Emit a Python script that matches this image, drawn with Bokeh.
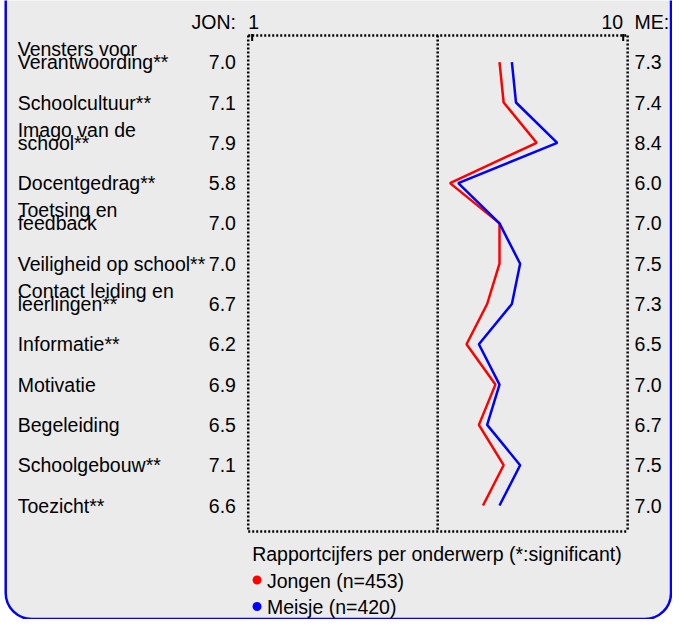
from bokeh.plotting import figure
from bokeh.models import Range1d, BoxAnnotation
from bokeh.core.properties import value
from bokeh.embed import file_html
from bokeh.resources import INLINE

# ---------------- data ----------------
categories = [
    "Vensters voor\nVerantwoording**",
    "Schoolcultuur**",
    "Imago van de\nschool**",
    "Docentgedrag**",
    "Toetsing en\nfeedback",
    "Veiligheid op school**",
    "Contact leiding en\nleerlingen**",
    "Informatie**",
    "Motivatie",
    "Begeleiding",
    "Schoolgebouw**",
    "Toezicht**",
]
jongen = [7.0, 7.1, 7.9, 5.8, 7.0, 7.0, 6.7, 6.2, 6.9, 6.5, 7.1, 6.6]
meisje = [7.3, 7.4, 8.4, 6.0, 7.0, 7.5, 7.3, 6.5, 7.0, 6.7, 7.5, 7.0]
scale_ticks = [1, 10]
scale_tick_labels = ["1", "10"]
mid_value = 5.5
head_left = "JON:"
head_right = "ME:"
legend_title = "Rapportcijfers per onderwerp (*:significant)"
series_names = ["Jongen (n=453)", "Meisje (n=420)"]
series_colors = ["#ff0000", "#0000ff"]

# ---------------- layout (pixel positions -> data space) ----------------
W, H = 672, 619
S = 0.983                 # slight horizontal squeeze so the right column fits
PX1, KX = 256.0 * S, 41.94 * S   # x pixel of value 1, px per unit
PY0, KY = 61.7, 40.3             # y pixel of first row, px per row

def dx(px):
    """reference x pixel -> data x"""
    return scale_ticks[0] + (px * S - PX1) / KX

def dy(py):
    return (py - PY0) / KY

p = figure(width=W, height=H, output_backend="svg", toolbar_location=None,
           x_range=Range1d(dx(0), dx(W / S)), y_range=Range1d(dy(H), dy(0)),
           x_axis_type=None, y_axis_type=None, min_border=0,
           min_border_left=0, min_border_right=0, min_border_top=0, min_border_bottom=0)
p.outline_line_color = None
p.background_fill_color = "white"
p.border_fill_color = "white"

# rounded panel
panel = BoxAnnotation(left=dx(5.3), right=dx((W - 1.5) / S),
                      top=dy(-40), bottom=dy(H - 0.5),
                      fill_color="#ebebeb", fill_alpha=1.0,
                      line_color="#0000ff", line_alpha=1.0, line_width=2.5,
                      border_radius=26, level="underlay")
p.add_layout(panel)

FONT = value("Liberation Sans")
FS = "19.5px"
TXT = dict(text_font=FONT, text_font_size=FS, text_color="black", text_baseline="middle")
rows = list(range(len(categories)))

# dotted box and middle line
bl, br = dx(252), dx(638)
bt, bb = dy(35), dy(531)
p.segment(x0=[bl, br, bl, bl, mid_value], y0=[bt, bt, bt, bb, bt],
          x1=[bl, br, br, br, mid_value], y1=[bb, bb, bt, bb, bb],
          line_color="black", line_width=2.5, line_dash="2 2")
# small ticks at the scale ends
p.segment(x0=scale_ticks, y0=[dy(33.5)] * 2, x1=scale_ticks, y1=[dy(40.5)] * 2,
          line_color="black", line_width=2)

# series lines
p.line(x=jongen, y=rows, line_color=series_colors[0], line_width=2.5)
p.line(x=meisje, y=rows, line_color=series_colors[1], line_width=2.5)

# category labels (multi-line: last line on the row)
LINE = 13.3 / KY
lx, ly, lt = [], [], []
for i, c in enumerate(categories):
    parts = c.split("\n")
    n = len(parts)
    for k, t in enumerate(parts):
        lx.append(dx(17.5))
        ly.append(i - (n - 1 - k) * LINE)
        lt.append(t)
p.text(x=lx, y=ly, text=lt, text_align="left", **TXT)

# value columns
p.text(x=[dx(239.5)] * len(rows), y=rows,
       text=[f"{v:.1f}" for v in jongen], text_align="right", **TXT)
p.text(x=[dx(645)] * len(rows), y=rows,
       text=[f"{v:.1f}" for v in meisje], text_align="left", **TXT)

# header
hy = dy(21)
p.text(x=[dx(239.5)], y=[hy], text=[head_left], text_align="right", **TXT)
p.text(x=[dx(645)], y=[hy], text=[head_right], text_align="left", **TXT)
p.text(x=[scale_ticks[0] - 4 / KX], y=[hy], text=[scale_tick_labels[0]], text_align="left", **TXT)
p.text(x=[scale_ticks[1]], y=[hy], text=[scale_tick_labels[1]], text_align="right", **TXT)

# legend
p.text(x=[dx(256)], y=[dy(553.5)], text=[legend_title], text_align="left", **TXT)
p.scatter(x=[dx(261)] * 2, y=[dy(579.5), dy(606)], size=9, color=series_colors, line_color=None)
p.text(x=[dx(271)] * 2, y=[dy(580), dy(606)], text=series_names, text_align="left", **TXT)

open("out.html", "w").write(file_html(p, INLINE))
